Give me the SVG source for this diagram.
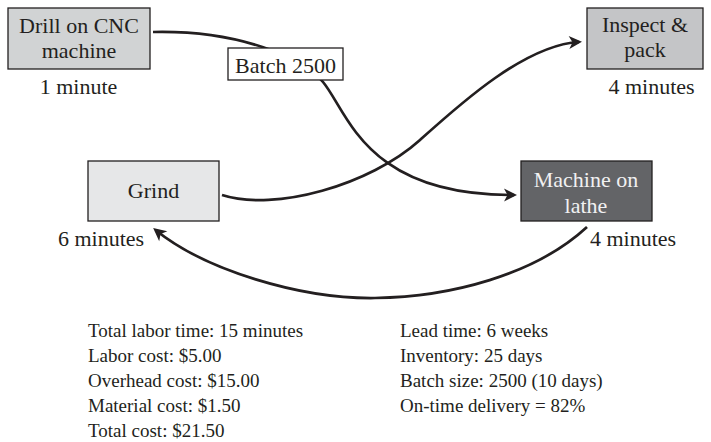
<svg xmlns="http://www.w3.org/2000/svg" width="711" height="442" viewBox="0 0 711 442">
  <style>
    text { font-family: "Liberation Serif", "DejaVu Serif", serif; fill: #231f20; }
    .lbl { font-size: 22px; text-anchor: middle; }
    .note { font-size: 22px; }
    .stat { font-size: 19px; }
    .box { stroke: #231f20; stroke-width: 1.3; }
    .flow { fill: none; stroke: #231f20; stroke-width: 2.7; }
  </style>
  <defs>
    <marker id="arrow" markerUnits="userSpaceOnUse" viewBox="-14 -7 15 14" refX="-3" refY="0" markerWidth="15" markerHeight="14" orient="auto">
      <path d="M0,0 L-13,-6.5 L-9.5,0 L-13,6.5 Z" fill="#231f20"/>
    </marker>
  </defs>

  <rect width="711" height="442" fill="#ffffff"/>

  <!-- connectors -->
  <g id="connectors">
    <!-- drill -> (batch) -> machine on lathe -->
    <path class="flow" d="M153,32 C240,30 303,58 323,82 C348,112 365,196 514,195" marker-end="url(#arrow)"/>
    <!-- grind -> inspect & pack -->
    <path class="flow" d="M222,195 C275,212 370,185 420,140 C460,104 525,45 579,42" marker-end="url(#arrow)"/>
    <!-- machine on lathe -> grind -->
    <path class="flow" d="M587,227 C535,275 450,297 375,298 C300,299 205,270 155.5,230" marker-end="url(#arrow)"/>
  </g>

  <g id="drill">
    <rect class="box" x="8" y="8" width="142" height="61" fill="#d1d3d4"/>
    <text class="lbl" x="79" y="33">Drill on CNC</text>
    <text class="lbl" x="79" y="58">machine</text>
    <text class="lbl" x="78.5" y="94">1 minute</text>
  </g>

  <g id="batch">
    <rect class="box" x="228" y="48" width="115" height="32" fill="#ffffff"/>
    <text class="lbl" x="285.5" y="72.5">Batch 2500</text>
  </g>

  <g id="inspect">
    <rect class="box" x="587" y="8" width="116" height="61" fill="#c4c5c7"/>
    <text class="lbl" x="645" y="32">Inspect &amp;</text>
    <text class="lbl" x="645" y="57">pack</text>
    <text class="lbl" x="651.5" y="94">4 minutes</text>
  </g>

  <g id="grind">
    <rect class="box" x="88" y="161" width="131" height="60" fill="#e6e7e8"/>
    <text class="lbl" x="153.5" y="198">Grind</text>
    <text class="note" x="58" y="246">6 minutes</text>
  </g>

  <g id="lathe">
    <rect class="box" x="521" y="161" width="131" height="60" fill="#636467"/>
    <text class="lbl" x="586" y="187" style="fill:#f1f1f2">Machine on</text>
    <text class="lbl" x="586" y="213" style="fill:#f1f1f2">lathe</text>
    <text class="note" x="590" y="246">4 minutes</text>
  </g>

  <g id="cost-summary">
    <text class="stat" x="88" y="337">Total labor time: 15 minutes</text>
    <text class="stat" x="88" y="362">Labor cost: $5.00</text>
    <text class="stat" x="88" y="387">Overhead cost: $15.00</text>
    <text class="stat" x="88" y="412">Material cost: $1.50</text>
    <text class="stat" x="88" y="437">Total cost: $21.50</text>
  </g>

  <g id="delivery-summary">
    <text class="stat" x="400" y="337">Lead time: 6 weeks</text>
    <text class="stat" x="400" y="362">Inventory: 25 days</text>
    <text class="stat" x="400" y="387">Batch size: 2500 (10 days)</text>
    <text class="stat" x="400" y="412">On-time delivery = 82%</text>
  </g>
</svg>
